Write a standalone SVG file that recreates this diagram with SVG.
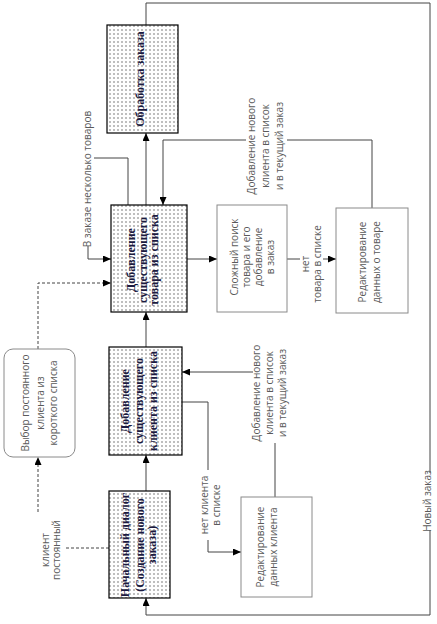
<svg xmlns="http://www.w3.org/2000/svg" width="437" height="624" viewBox="0 0 437 624">
<style>
.dn{fill:url(#dots);stroke:#000;stroke-width:1.2}
.gb{fill:#fff;stroke:#8a8a8a;stroke-width:1}
.bt{font-family:"Liberation Serif",serif;font-weight:bold;font-size:12px;fill:#1a1a40}
.lt{font-family:"Open Sans","Liberation Sans",sans-serif;font-size:10px;fill:#5a5a5a}
.c{fill:none;stroke:#444;stroke-width:1}
.d{stroke-dasharray:3,2}
</style>
<defs>
<pattern id="dots" width="4" height="4" patternUnits="userSpaceOnUse">
<rect width="4" height="4" fill="#fff"/>
<rect x="1.5" y="1.5" width="1" height="1" fill="#000"/>
</pattern>
<marker id="ar" markerWidth="8" markerHeight="7" refX="8" refY="3.5" orient="auto" markerUnits="userSpaceOnUse">
<path d="M0,0 L8,3.5 L0,7 z" fill="#000"/>
</marker>
</defs>

<g id="connectors">
<path class="c" d="M146,491 V455" marker-end="url(#ar)"/>
<path class="c" d="M146,347 V312" marker-end="url(#ar)"/>
<path class="c" d="M146,205 V133" marker-end="url(#ar)"/>
<path class="c" d="M146,25 V3 H430 V473"/>
<path class="c" d="M430,530 V615 H146 V598" marker-end="url(#ar)"/>
<path class="c" d="M187,259 H217" marker-end="url(#ar)"/>
<path class="c" d="M287,259 H300"/>
<path class="c" d="M323,259 H336" marker-end="url(#ar)"/>
<path class="c" d="M372,208 V140 H287"/>
<path class="c" d="M246,140 H163 V205" marker-end="url(#ar)"/>
<path class="c" d="M128,205 V158 H94"/>
<path class="c" d="M88,246 V259 H111" marker-end="url(#ar)"/>
<path class="c d" d="M38,349 V283 H111" marker-end="url(#ar)"/>
<path class="c d" d="M109,548 H64"/>
<path class="c d" d="M38,512 V457" marker-end="url(#ar)"/>
<path class="c" d="M182,402 H208 V470"/>
<path class="c" d="M208,540 V552 H241" marker-end="url(#ar)"/>
<path class="c" d="M275,497 V443"/>
<path class="c" d="M253,372 H182" marker-end="url(#ar)"/>
<text class="lt" transform="translate(0,501) rotate(-90)" text-anchor="middle"><tspan x="0" y="431">Новый заказ</tspan></text>
<text class="lt" transform="translate(0,264) rotate(-90)" text-anchor="middle"><tspan x="0" y="309">нет</tspan><tspan x="0" y="321">товара в списке</tspan></text>
<text class="lt" transform="translate(0,146) rotate(-90)" text-anchor="middle"><tspan x="0" y="255">Добавление нового</tspan><tspan x="0" y="269">клиента в список</tspan><tspan x="0" y="283">и в текущий заказ</tspan></text>
<text class="lt" transform="translate(0,179) rotate(-90)" text-anchor="middle"><tspan x="0" y="91">В заказе несколько товаров</tspan></text>
<text class="lt" transform="translate(0,550) rotate(-90)" text-anchor="middle"><tspan x="0" y="49">клиент</tspan><tspan x="0" y="60">постоянный</tspan></text>
<text class="lt" transform="translate(0,505) rotate(-90)" text-anchor="middle"><tspan x="0" y="208">нет клиента</tspan><tspan x="0" y="220">в списке</tspan></text>
<text class="lt" transform="translate(0,393) rotate(-90)" text-anchor="middle"><tspan x="0" y="260">Добавление нового</tspan><tspan x="0" y="273">клиента в список</tspan><tspan x="0" y="286">и в текущий заказ</tspan></text>
</g>

<g id="n1">
<rect class="dn" x="109" y="491" width="61" height="107"/>
<text class="bt" transform="translate(0,545) rotate(-90)" text-anchor="middle"><tspan x="0" y="129">Начальный диалог</tspan><tspan x="0" y="144">(Создание нового</tspan><tspan x="0" y="156">заказа)</tspan></text>
</g>
<g id="n2">
<rect class="dn" x="109" y="347" width="73" height="108"/>
<text class="bt" transform="translate(0,401) rotate(-90)" text-anchor="middle"><tspan x="0" y="129">Добавление</tspan><tspan x="0" y="143">существующего</tspan><tspan x="0" y="157">клиента из списка</tspan></text>
</g>
<g id="n3">
<rect class="dn" x="111" y="205" width="76" height="107"/>
<text class="bt" transform="translate(0,260) rotate(-90)" text-anchor="middle"><tspan x="0" y="135">Добавление</tspan><tspan x="0" y="147">существующего</tspan><tspan x="0" y="158">товара из списка</tspan></text>
</g>
<g id="n4">
<rect class="dn" x="107" y="25" width="71" height="108"/>
<text class="bt" transform="translate(0,79) rotate(-90)" text-anchor="middle"><tspan x="0" y="144">Обработка заказа</tspan></text>
</g>
<g id="n5">
<rect class="gb" x="4" y="349" width="71" height="108" rx="9"/>
<text class="lt" transform="translate(0,403) rotate(-90)" text-anchor="middle"><tspan x="0" y="29">Выбор постоянного</tspan><tspan x="0" y="44">клиента из</tspan><tspan x="0" y="57">короткого списка</tspan></text>
</g>
<g id="n6">
<rect class="gb" x="217" y="205" width="70" height="107"/>
<text class="lt" transform="translate(0,257) rotate(-90)" text-anchor="middle"><tspan x="0" y="238">Сложный поиск</tspan><tspan x="0" y="250">товара и его</tspan><tspan x="0" y="262">добавление</tspan><tspan x="0" y="274">в заказ</tspan></text>
</g>
<g id="n7">
<rect class="gb" x="336" y="208" width="72" height="105"/>
<text class="lt" transform="translate(0,262) rotate(-90)" text-anchor="middle"><tspan x="0" y="366">Редактирование</tspan><tspan x="0" y="380">данных о товаре</tspan></text>
</g>
<g id="n8">
<rect class="gb" x="241" y="497" width="71" height="100"/>
<text class="lt" transform="translate(0,547) rotate(-90)" text-anchor="middle"><tspan x="0" y="264">Редактирование</tspan><tspan x="0" y="277">данных клиента</tspan></text>
</g>
</svg>
